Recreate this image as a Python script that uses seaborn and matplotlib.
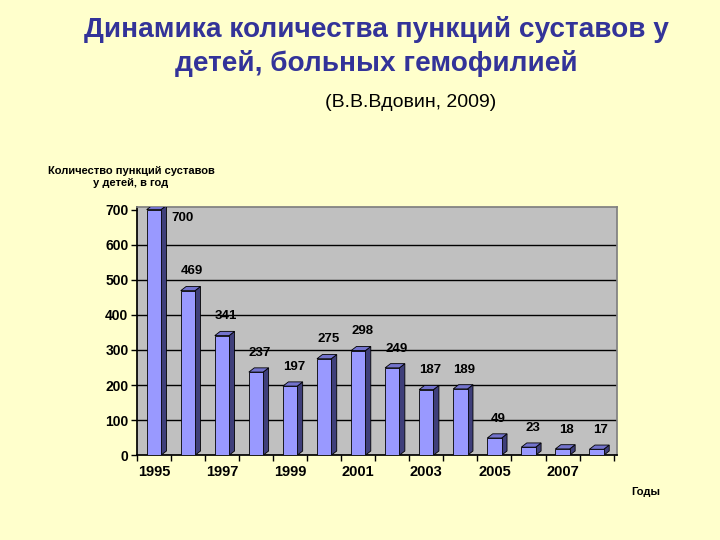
import matplotlib
matplotlib.use("Agg")
import matplotlib.pyplot as plt
import seaborn as sns
import pandas as pd
from matplotlib.patches import Polygon

# data
years = [str(y) for y in range(1995, 2009)]
punctures = [700, 469, 341, 237, 197, 275, 298, 249, 187, 189, 49, 23, 18, 17]
shown_years = ["1995", "1997", "1999", "2001", "2003", "2005", "2007"]
y_ticks = [0, 100, 200, 300, 400, 500, 600, 700]

df = pd.DataFrame({"year": years, "count": punctures})

sns.set_theme(style="white")
plt.rcParams["font.family"] = ["Liberation Sans", "DejaVu Sans"]
plt.rcParams["text.color"] = "black"
plt.rcParams["xtick.color"] = "black"
plt.rcParams["ytick.color"] = "black"

bg = "#FFFFCC"
fig = plt.figure(figsize=(7.2, 5.4), dpi=100, facecolor=bg)
ax = fig.add_axes([0.190, 0.157, 0.667, 0.460])
ax.set_facecolor("#C0C0C0")

# grid lines on the back wall
for t in y_ticks[1:-1]:
    ax.axhline(t, color="black", lw=1.0, zorder=1)

sns.barplot(data=df, x="year", y="count", color="#9999FF", width=0.42,
            saturation=1, edgecolor="black", linewidth=0.6, ax=ax, zorder=3)

# fake 3D: side and top faces taken from the bar patches
dx, dy = 0.16, 12
for p in ax.patches:
    x0, w, h = p.get_x(), p.get_width(), p.get_height()
    x1 = x0 + w
    side = Polygon([(x1, 0), (x1 + dx, dy), (x1 + dx, h + dy), (x1, h)],
                   closed=True, facecolor="#3F3F7A", edgecolor="black", lw=0.6, zorder=2.9)
    top = Polygon([(x0, h), (x0 + dx, h + dy), (x1 + dx, h + dy), (x1, h)],
                  closed=True, facecolor="#7373CC", edgecolor="black", lw=0.6, zorder=2.9)
    ax.add_patch(side)
    ax.add_patch(top)

# value labels
for i, v in enumerate(punctures):
    if i == 0:
        ax.text(i + 0.85, v - 25, str(v), ha="center", va="center",
                fontsize=9.5, fontweight="bold", color="black")
    else:
        ax.text(i + 0.12, v + 55, str(v), ha="center", va="center",
                fontsize=9.5, fontweight="bold", color="black")

ax.set_xlim(-0.5, 13.6)
ax.set_ylim(0, 708)
ax.set_yticks(y_ticks)
ax.set_yticklabels([str(t) for t in y_ticks], fontsize=10, fontweight="bold")
ax.set_xticks([years.index(y) for y in shown_years])
ax.set_xticklabels(shown_years, fontsize=10.5, fontweight="bold")
ax.set_xticks([i - 0.5 for i in range(len(years) + 1)], minor=True)
ax.tick_params(axis="x", which="major", length=0, pad=7)
ax.tick_params(axis="x", which="minor", length=4, width=1, color="black", direction="out")
ax.tick_params(axis="y", length=4, width=1, color="black", direction="out", pad=2)
ax.xaxis.set_ticks_position("bottom")
ax.yaxis.set_ticks_position("left")
ax.set_xlabel("")
ax.set_ylabel("")
ax.spines["left"].set_color("black")
ax.spines["bottom"].set_color("black")
ax.spines["top"].set_color("#808080")
ax.spines["right"].set_color("#808080")

fig.text(0.523, 0.945, "Динамика количества пункций суставов у", ha="center", va="center",
         fontsize=20.2, fontweight="bold", color="#333399")
fig.text(0.523, 0.883, "детей, больных гемофилией", ha="center", va="center",
         fontsize=20.2, fontweight="bold", color="#333399")
fig.text(0.57, 0.810, "(В.В.Вдовин, 2009)", ha="center", va="center",
         fontsize=14, color="black")
fig.text(0.182, 0.672, "Количество пункций суставов\nу детей, в год", ha="center", va="center",
         fontsize=8, fontweight="bold", color="black", linespacing=1.25)
fig.text(0.897, 0.088, "Годы", ha="center", va="center",
         fontsize=8, fontweight="bold", color="black")

fig.savefig("out.png", dpi=100, facecolor=bg)
